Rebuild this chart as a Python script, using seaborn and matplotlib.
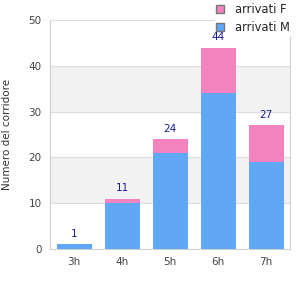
import numpy as np
import pandas as pd
import seaborn as sns
import matplotlib.pyplot as plt
from matplotlib.patches import Patch

# --- data ---
categories = ["3h", "4h", "5h", "6h", "7h"]
arrivati_m = [1, 10, 21, 34, 19]
arrivati_f = [0, 1, 3, 10, 8]
totals = [m + f for m, f in zip(arrivati_m, arrivati_f)]

BLUE = "#60a8f5"
PINK = "#f383be"

sns.set_theme(style="white")
plt.rcParams["font.family"] = ["DejaVu Sans"]

df = pd.DataFrame({"ora": categories, "M": arrivati_m, "F": arrivati_f, "tot": totals})

fig = plt.figure(figsize=(3, 3), dpi=100)
ax = fig.add_axes([0.167, 0.17, 0.8, 0.763])

# alternating bands and grid
for lo in (10, 30):
    ax.axhspan(lo, lo + 10, color="#f2f2f2", zorder=0, lw=0)
for y in range(10, 51, 10):
    ax.axhline(y, color="#dddddd", lw=0.8, zorder=0.5)

sns.barplot(data=df, x="ora", y="tot", color=PINK, width=0.73, saturation=1,
            linewidth=0, ax=ax, zorder=2)
sns.barplot(data=df, x="ora", y="M", color=BLUE, width=0.73, saturation=1,
            linewidth=0, ax=ax, zorder=3)

for i, t in enumerate(totals):
    ax.text(i, t + 1.2, str(t), ha="center", va="bottom", fontsize=7.5,
            color="#1a1a99", zorder=12)

ax.set_xlim(-0.5, 4.5)
ax.set_ylim(0, 50)
ax.set_yticks(range(0, 51, 10))
ax.set_xlabel("")
ax.set_ylabel("Numero del corridore", fontsize=7.5, color="#333333", labelpad=12)
ax.tick_params(axis="both", labelsize=7.5, colors="#444444", length=0, pad=6)

ax.spines["top"].set_visible(False)
for s in ["left", "bottom", "right"]:
    ax.spines[s].set_color("#d0d0d0")
    ax.spines[s].set_linewidth(0.8)

handles = [Patch(facecolor=PINK, edgecolor="#777777", label="arrivati F"),
           Patch(facecolor=BLUE, edgecolor="#777777", label="arrivati M")]
leg = ax.legend(handles=handles, loc="upper left", bbox_to_anchor=(0.715, 0.995),
                bbox_transform=fig.transFigure,
                fontsize=8.3, frameon=True, framealpha=1, edgecolor="white",
                handlelength=0.72, handleheight=0.72, handletextpad=1.0,
                labelspacing=0.45, borderpad=0.1, borderaxespad=0)
leg.set_zorder(10)

fig.savefig("out.png", dpi=100, facecolor="white")
